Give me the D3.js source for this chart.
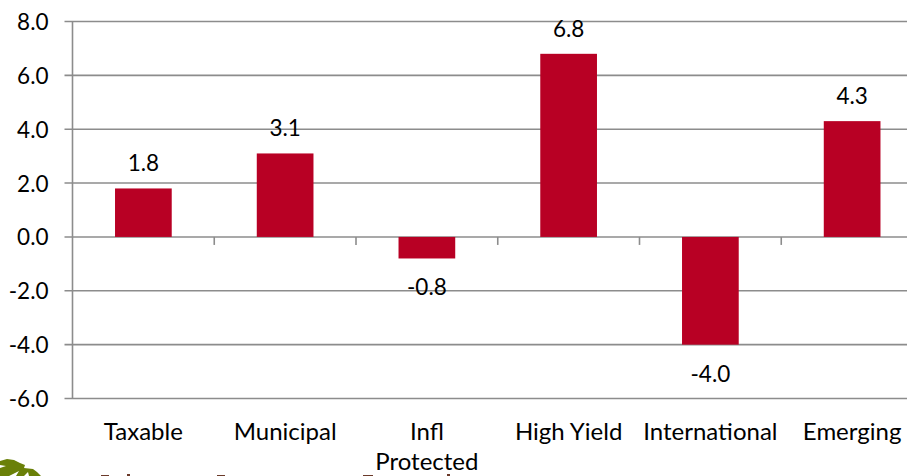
<!DOCTYPE html>
<html>
<head>
<meta charset="utf-8">
<script src="https://cdnjs.cloudflare.com/ajax/libs/d3/7.8.5/d3.min.js"></script>
<style>
html,body{margin:0;padding:0;background:#fff;overflow:hidden}
svg{display:block}
text{font-family:Lato,"Open Sans",sans-serif;fill:#000}
.num{font-size:22.5px}
.cat{font-size:24px}
</style>
</head>
<body>
<svg id="chart" width="907" height="476"></svg>
<script>
const categories = ["Taxable","Municipal","Infl|Protected","High Yield","International","Emerging"];
const values = [1.8,3.1,-0.8,6.8,-4.0,4.3];
const yTicks = [-6,-4,-2,0,2,4,6,8];

const svg = d3.select("#chart");
const y = d3.scaleLinear().domain([-6,8]).range([398.5,21.5]);
const x = d3.scaleBand().domain(categories).range([72.5,923]).paddingInner(0.6).paddingOuter(0.3);
const gray = "#8c8c8c";
const fmt = v => d3.format(".1f")(v).replace("\u2212","-");

// horizontal gridlines with short tick stubs to the left of the axis
svg.append("g").selectAll("line").data(yTicks).join("line")
  .attr("x1",64.5).attr("x2",907)
  .attr("y1",d=>y(d)).attr("y2",d=>y(d))
  .attr("stroke",gray).attr("stroke-width",1.6);

// vertical value axis
svg.append("line").attr("x1",72.5).attr("x2",72.5)
  .attr("y1",y(8)).attr("y2",y(-6))
  .attr("stroke",gray).attr("stroke-width",1.6);

// category separators hanging off the zero line
const step = x.step();
svg.append("g").selectAll("line").data(categories.slice(1)).join("line")
  .attr("x1",d=>x(d)+x.bandwidth()/2-step/2).attr("x2",d=>x(d)+x.bandwidth()/2-step/2)
  .attr("y1",y(0)).attr("y2",y(0)+8)
  .attr("stroke",gray).attr("stroke-width",1.6);

// value axis labels
svg.append("g").selectAll("text").data(yTicks).join("text")
  .attr("class","num")
  .attr("x",48.5).attr("y",d=>y(d)+8.5).attr("text-anchor","end")
  .text(fmt);

// bars
svg.append("g").selectAll("rect").data(values).join("rect")
  .attr("x",(d,i)=>x(categories[i]))
  .attr("width",x.bandwidth())
  .attr("y",d=>y(Math.max(d,0)))
  .attr("height",d=>Math.abs(y(d)-y(0)))
  .attr("fill","#b80024");

// value labels
svg.append("g").selectAll("text").data(values).join("text")
  .attr("class","num")
  .attr("x",(d,i)=>x(categories[i])+x.bandwidth()/2)
  .attr("y",d=>d>=0 ? y(d)-17 : y(d)+37)
  .attr("text-anchor","middle")
  .text(fmt);

// category labels, with "|" marking a line break
const cat = svg.append("g").selectAll("text").data(categories).join("text")
  .attr("class","cat")
  .attr("text-anchor","middle")
  .attr("x",d=>x(d)+x.bandwidth()/2)
  .attr("y",440);
cat.selectAll("tspan").data(d=>d.split("|").map(s=>({s,d}))).join("tspan")
  .attr("x",o=>x(o.d)+x.bandwidth()/2)
  .attr("dy",(o,i)=>i?29.5:0)
  .text(o=>o.s);

// footer logo: tree canopy, and the top edge of its wordmark at the page bottom
svg.append("path")
  .attr("d","M0,461 L7,459 L14,460 L20,463 L25,465 L24,468 L33,469 L37,472 L41,476 L0,476 Z")
  .attr("fill","#6a8008");
svg.append("path")
  .attr("d","M9,476 L19,471 L16,476 Z M0,465 L6,466 L0,468 Z M24,476 L28,472 L29,476 Z")
  .attr("fill","#fff");
svg.append("path")
  .attr("d","M101,475H109V476H101Z M127,474H130V476H127Z M217,475H225V476H217Z M363,475H373V476H363Z M447,474H450V476H447Z")
  .attr("fill","#6b3a2a");
</script>
</body>
</html>
